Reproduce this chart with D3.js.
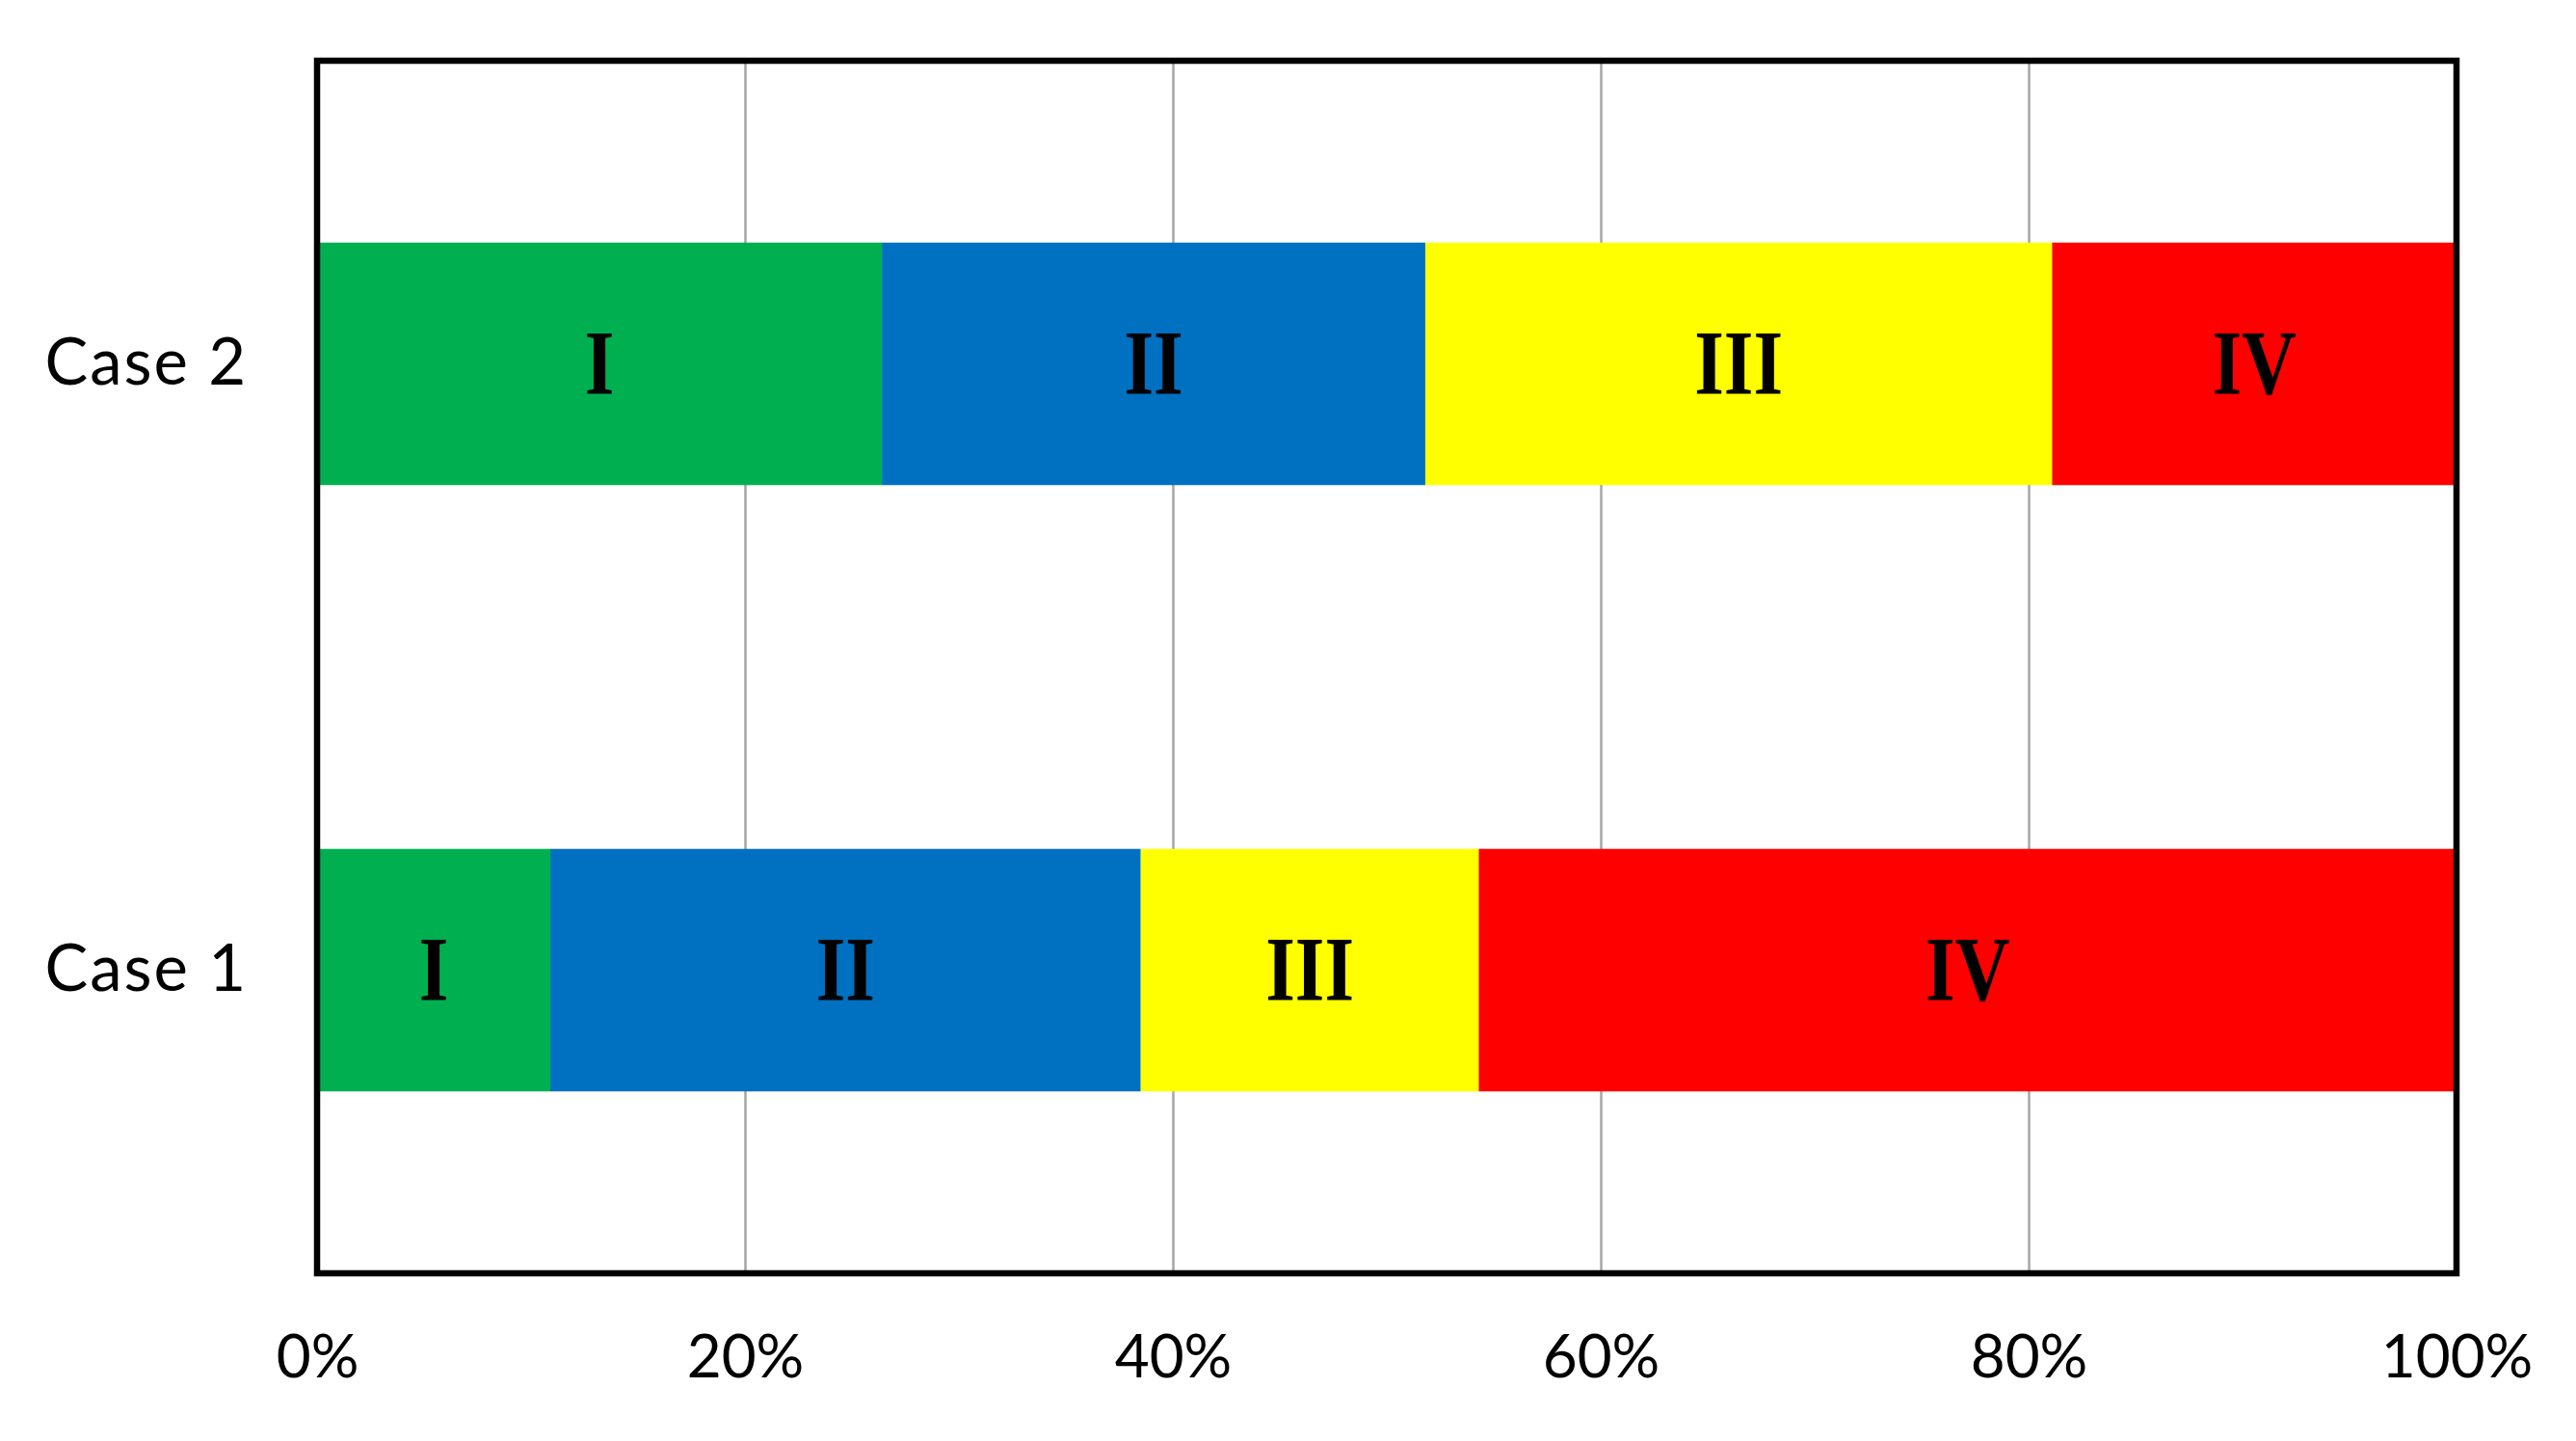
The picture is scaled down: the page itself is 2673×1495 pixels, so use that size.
<!DOCTYPE html>
<html>
<head>
<meta charset="utf-8">
<script src="https://cdn.jsdelivr.net/npm/d3@7"></script>
<style>
  body { margin: 0; background: #fff; }
  svg { display: block; }
</style>
</head>
<body>
<svg width="2673" height="1495"></svg>
<script>
// shares per case (percent)
var cases = ["Case 2", "Case 1"];
var stages = ["I", "II", "III", "IV"];
var stageI   = [26.4, 10.9];
var stageII  = [25.4, 27.6];
var stageIII = [29.3, 15.8];
var stageIV  = [18.9, 45.7];
var stageColors = ["#00b050", "#0070c0", "#ffff00", "#ff0000"];
var xTicks = [0, 20, 40, 60, 80, 100];

var rows = cases.map(function(c, i) {
    return {case: c, I: stageI[i], II: stageII[i], III: stageIII[i], IV: stageIV[i]};
});

var svg = d3.select("svg"),
    margin = {top: 63, right: 124, bottom: 174, left: 329},
    width = +svg.attr("width") - margin.left - margin.right,
    height = +svg.attr("height") - margin.top - margin.bottom,
    g = svg.append("g").attr("transform", "translate(" + margin.left + "," + margin.top + ")");

var x = d3.scaleLinear()
    .domain([0, 100])
    .range([0, width]);

var y = d3.scaleBand()
    .domain(cases)
    .range([0, height])
    .paddingInner(0.6)
    .paddingOuter(0.3);

var color = d3.scaleOrdinal().domain(stages).range(stageColors);

var series = d3.stack().keys(stages)(rows);

// vertical gridlines
g.append("g")
    .attr("class", "grid")
    .attr("transform", "translate(0," + height + ")")
    .call(d3.axisBottom(x).tickValues(xTicks.slice(1, -1)).tickSize(-height).tickFormat(""))
    .call(function(s) { s.select(".domain").remove(); })
    .selectAll("line")
    .attr("stroke", "#a6a6a6")
    .attr("stroke-width", 2.5);

// stacked bars
var layer = g.selectAll(".layer")
    .data(series)
    .enter().append("g")
    .attr("class", "layer")
    .attr("fill", function(d) { return color(d.key); });

layer.selectAll("rect")
    .data(function(d) { return d; })
    .enter().append("rect")
    .attr("x", function(d) { return x(d[0]); })
    .attr("y", function(d) { return y(d.data.case); })
    .attr("width", function(d) { return x(d[1]) - x(d[0]); })
    .attr("height", y.bandwidth());

// roman numeral labels inside segments
layer.selectAll("text")
    .data(function(d) { return d.map(function(p) { p.key = d.key; return p; }); })
    .enter().append("text")
    .attr("transform", function(d) {
        return "translate(" + x((d[0] + d[1]) / 2) + "," + (y(d.data.case) + y.bandwidth() / 2) + ") scale(0.82,1)";
    })
    .attr("text-anchor", "middle")
    .attr("dy", "0.33em")
    .attr("fill", "#000")
    .style("font-family", "'Liberation Serif', 'Times New Roman', serif")
    .style("font-weight", "bold")
    .style("font-size", "96px")
    .text(function(d) { return d.key; });

// plot frame
g.append("rect")
    .attr("width", width)
    .attr("height", height)
    .attr("fill", "none")
    .attr("stroke", "#000")
    .attr("stroke-width", 6.5);

// x axis labels
g.append("g")
    .attr("class", "axis axis--x")
    .attr("transform", "translate(0," + height + ")")
    .call(d3.axisBottom(x).tickValues(xTicks).tickSize(0).tickPadding(64)
        .tickFormat(function(d) { return d + "%"; }))
    .call(function(s) { s.select(".domain").remove(); })
    .selectAll("text")
    .attr("fill", "#000")
    .style("font-family", "Lato, 'Open Sans', sans-serif")
    .style("font-size", "62px");

// y axis labels
g.append("g")
    .attr("class", "axis axis--y")
    .call(d3.axisLeft(y).tickSize(0).tickPadding(72))
    .call(function(s) { s.select(".domain").remove(); })
    .selectAll("text")
    .attr("fill", "#000")
    .style("font-family", "Lato, 'Open Sans', sans-serif")
    .style("font-size", "67px")
    .style("letter-spacing", "2px");
</script>
</body>
</html>
